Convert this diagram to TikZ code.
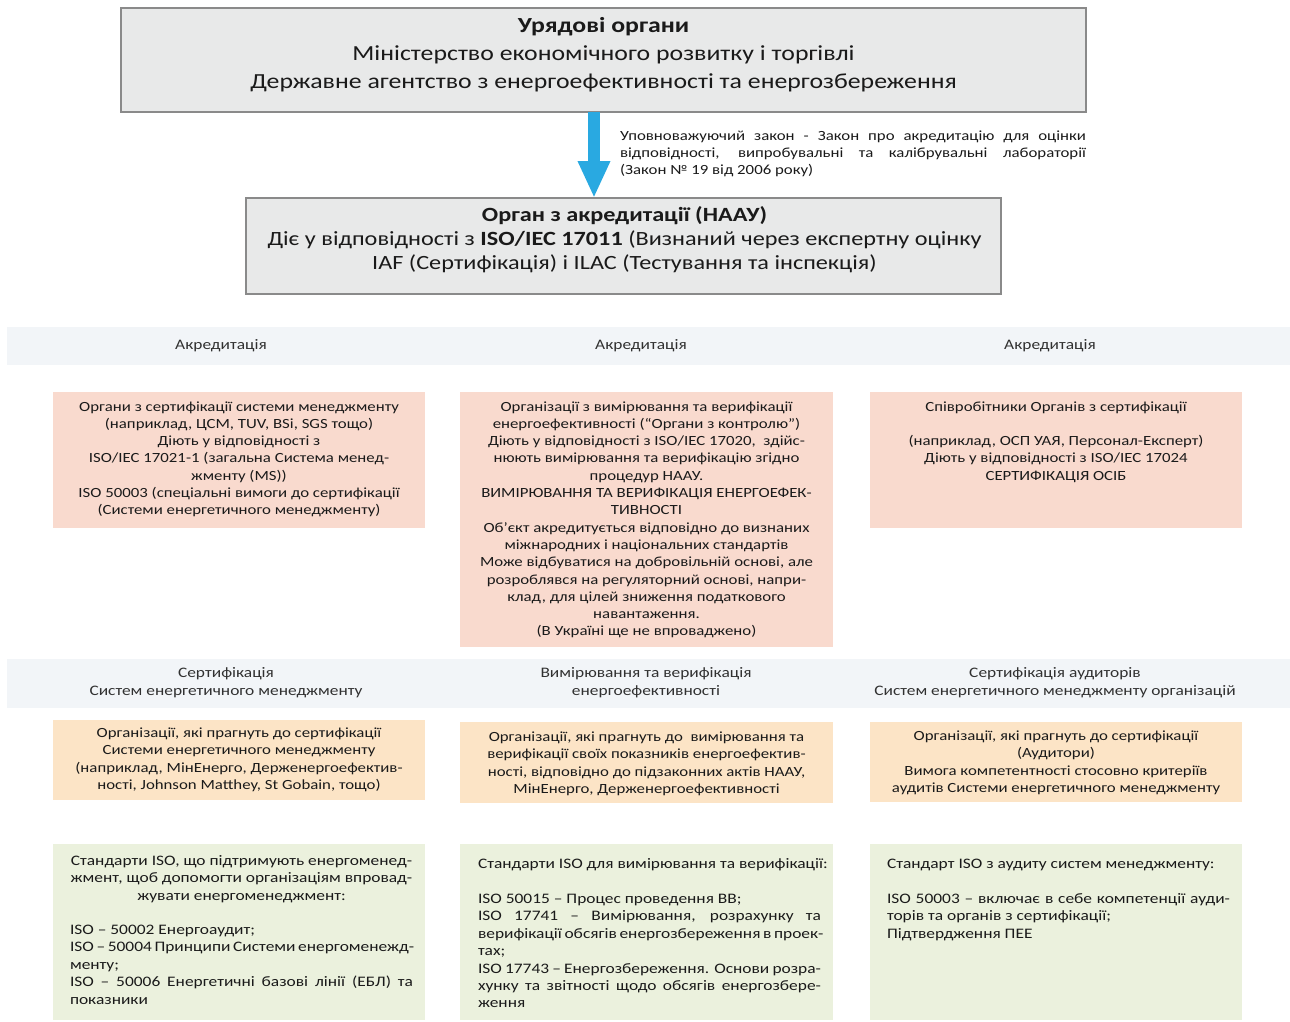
\documentclass[tikz,border=0pt]{standalone}
\usepackage{fontspec}
\setmainfont[FakeStretch=1.2]{Carlito}
\usetikzlibrary{arrows.meta}
\definecolor{boxgray}{HTML}{E8E9E9}
\definecolor{boxline}{HTML}{8A8A8A}
\definecolor{arrowblue}{HTML}{29A9E1}
\definecolor{bandc}{HTML}{F2F5F8}
\definecolor{salmonc}{HTML}{F9DACE}
\definecolor{peachc}{HTML}{FCE4C6}
\definecolor{greenc}{HTML}{EBF1DD}
\definecolor{textc}{HTML}{1A1A1A}
\newcommand\jl[1]{\makebox[343pt][s]{#1}}
\newcommand\jlw[1]{\makebox[466pt][s]{#1}}
\begin{document}
\begin{tikzpicture}[x=1pt,y=-1pt,
  area/.style={anchor=north west, inner sep=0, outer sep=0},
  graybox/.style={area, fill=boxgray, draw=boxline, line width=1.3pt},
  band/.style={area, fill=bandc},
  salmonbox/.style={area, fill=salmonc},
  peachbox/.style={area, fill=peachc},
  greenbox/.style={area, fill=greenc},
  txt/.style={inner sep=0, outer sep=0, anchor=north, align=center, text=textc,
    font=\fontsize{14}{17.3}\selectfont},
  ltxt/.style={txt, anchor=north west, align=left},
  bigtxt/.style={txt, font=\fontsize{21.5}{28}\selectfont},
  midtxt/.style={txt, font=\fontsize{20.2}{24}\selectfont},
  bandtxt/.style={txt, text=textc!90, font=\fontsize{14.5}{17.4}\selectfont},
  gtxt/.style={txt, font=\fontsize{14.5}{17.4}\selectfont},
  gltxt/.style={ltxt, font=\fontsize{14.5}{17.4}\selectfont},
  bluearrow/.style={draw=arrowblue, line width=12pt, -{Triangle[width=30pt,length=37pt]}}
]
\useasboundingbox (0,0) rectangle (1290,1021);

% government box
\node[graybox, minimum width=965, minimum height=104] (gov) at (121,8) {};
\node[bigtxt] (govt) at (603.5,12.4) {\strut\textbf{Урядові органи}\\
Міністерство економічного розвитку і торгівлі\\
Державне агентство з енергоефективності та енергозбереження};

% accreditation body box
\node[graybox, minimum width=755, minimum height=96] (acc) at (246,198) {};
\node[midtxt] (acct) at (624.5,204.2) {\strut\textbf{Орган з акредитації (НААУ)}\\
Діє у відповідності з \textbf{ISO/IEC 17011} (Визнаний через експертну оцінку\\
IAF (Сертифікація) і ILAC (Тестування та інспекція)};

% arrow
\draw[bluearrow] ([xshift=-9.5pt]gov.south) -- ([xshift=-29.5pt]acc.north);
\node[ltxt] (law) at (620,128.2) {\strut\jlw{Уповноважуючий закон - Закон про акредитацію для оцінки}\\
\jlw{відповідності, випробувальні та калібрувальні лабораторії}\\
(Закон № 19 від 2006 року)};

% band 1
\node[band, minimum width=1283, minimum height=38] (band1) at (7,327) {};
\node[bandtxt] (b1a) at (221,337.8) {\strut Акредитація};
\node[bandtxt] (b1b) at (641,337.8) {\strut Акредитація};
\node[bandtxt] (b1c) at (1050,337.8) {\strut Акредитація};

% salmon boxes
\node[salmonbox, minimum width=372, minimum height=136] (s1) at (53,392) {};
\node[salmonbox, minimum width=373, minimum height=255] (s2) at (460,392) {};
\node[salmonbox, minimum width=372, minimum height=136] (s3) at (870,392) {};
\node[txt] (s1t) at (239,398.9) {\strut Органи з сертифікації системи менеджменту\\
(наприклад, ЦСМ, TUV, BSi, SGS тощо)\\
Діють у відповідності з\\
ISO/IEC 17021-1 (загальна Система менед-\\
жменту (MS))\\
ISO 50003 (спеціальні вимоги до сертифікації\\
(Системи енергетичного менеджменту)};
\node[txt] (s2t) at (646.5,398.9) {\strut Організації з вимірювання та верифікації\\
енергоефективності (“Органи з контролю”)\\
Діють у відповідності з ISO/IEC 17020,\ \ здійс-\\
нюють вимірювання та верифікацію згідно\\
процедур НААУ.\\
ВИМІРЮВАННЯ ТА ВЕРИФІКАЦІЯ ЕНЕРГОЕФЕК-\\
ТИВНОСТІ\\
Об'єкт акредитується відповідно до визнаних\\
міжнародних і національних стандартів\\
Може відбуватися на добровільній основі, але\\
розроблявся на регуляторний основі, напри-\\
клад, для цілей зниження податкового\\
навантаження.\\
(В Україні ще не впроваджено)};
\node[txt] (s3t) at (1056,398.9) {\strut Співробітники Органів з сертифікації\\
\strut\\
(наприклад, ОСП УАЯ, Персонал-Експерт)\\
Діють у відповідності з ISO/IEC 17024\\
СЕРТИФІКАЦІЯ ОСІБ};

% band 2
\node[band, minimum width=1283, minimum height=49] (band2) at (7,659) {};
\node[bandtxt] (b2a) at (226,665.8) {\strut Сертифікація\\Систем енергетичного менеджменту};
\node[bandtxt] (b2b) at (646,665.8) {\strut Вимірювання та верифікація\\енергоефективності};
\node[bandtxt] (b2c) at (1055,665.8) {\strut Сертифікація аудиторів\\Систем енергетичного менеджменту організацій};

% peach boxes
\node[peachbox, minimum width=372, minimum height=80] (o1) at (53,720) {};
\node[peachbox, minimum width=373, minimum height=81] (o2) at (460,722) {};
\node[peachbox, minimum width=372, minimum height=80] (o3) at (870,722) {};
\node[txt] (o1t) at (239,725.4) {\strut Організації, які прагнуть до сертифікації\\
Системи енергетичного менеджменту\\
(наприклад, МінЕнерго, Держенергоефектив-\\
ності, Johnson Matthey, St Gobain, тощо)};
\node[txt] (o2t) at (646.5,729.4) {\strut Організації, які прагнуть до\ \ вимірювання та\\
верифікації своїх показників енергоефектив-\\
ності, відповідно до підзаконних актів НААУ,\\
МінЕнерго, Держенергоефективності};
\node[txt] (o3t) at (1056,728.4) {\strut Організації, які прагнуть до сертифікації\\
(Аудитори)\\
Вимога компетентності стосовно критеріїв\\
аудитів Системи енергетичного менеджменту};

% green boxes
\node[greenbox, minimum width=372, minimum height=176] (g1) at (53,844) {};
\node[greenbox, minimum width=373, minimum height=176] (g2) at (460,844) {};
\node[greenbox, minimum width=372, minimum height=176] (g3) at (870,844) {};
\node[gtxt] (g1a) at (241.5,853.3) {\strut Стандарти ISO, що підтримують енергоменед-\\
жмент, щоб допомогти організаціям впровад-\\
жувати енергоменеджмент:};
\node[gltxt] (g1b) at (70,922.3) {\strut ISO – 50002 Енергоаудит;\\
\jl{ISO – 50004 Принципи Системи енергоменежд-}\\
менту;\\
\jl{ISO – 50006 Енергетичні базові лінії (ЕБЛ) та}\\
показники};
\node[gltxt] (g2a) at (478,856.3) {\strut Стандарти ISO для вимірювання та верифікації:};
\node[gltxt] (g2b) at (478,891.3) {\strut ISO 50015 – Процес проведення ВВ;\\
\jl{ISO 17741 – Вимірювання, розрахунку та}\\
\jl{верифікації обсягів енергозбереження в проек-}\\
тах;\\
\jl{ISO 17743 – Енергозбереження. Основи розра-}\\
\jl{хунку та звітності щодо обсягів енергозбере-}\\
ження};
\node[gltxt] (g3a) at (887,856.3) {\strut Стандарт ISO з аудиту систем менеджменту:};
\node[gltxt] (g3b) at (887,891.3) {\strut \jl{ISO 50003 – включає в себе компетенції ауди-}\\
торів та органів з сертифікації;\\
Підтвердження ПЕЕ};
\end{tikzpicture}
\end{document}
